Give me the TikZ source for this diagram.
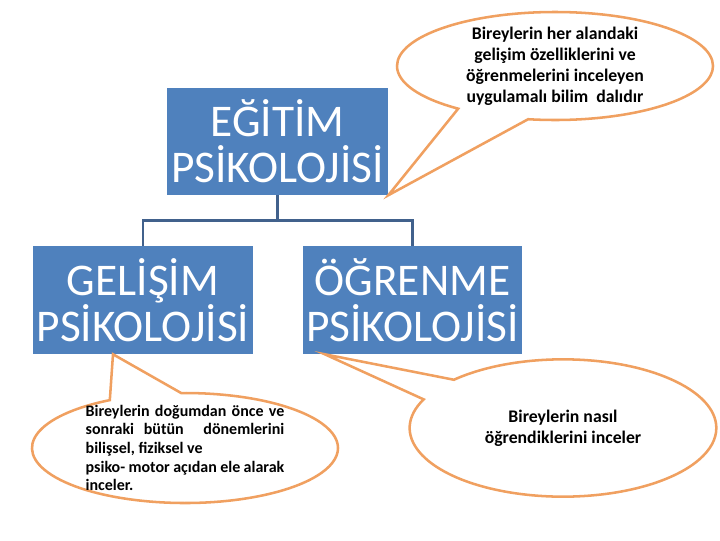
\documentclass[tikz,border=0pt]{standalone}
\usepackage{fontspec}
\setmainfont{Carlito}
\usepackage{tikz}
\usetikzlibrary{shapes.callouts}

\definecolor{boxblue}{RGB}{79,129,189}
\definecolor{treeblue}{RGB}{65,97,140}
\definecolor{bubbleorange}{RGB}{240,160,96}

\tikzset{
  topicbox/.style={fill=boxblue, text=white, inner sep=0pt, align=center,
    font=\fontsize{34}{34.5}\selectfont},
  bubble/.style={ellipse callout, draw=bubbleorange, fill=white, line width=1.9pt, inner sep=0pt},
  bubbletext/.style={align=center, font=\bfseries\fontsize{13.3}{15.75}\selectfont},
  treeline/.style={draw=treeblue, line width=1.9pt}
}

\begin{document}
\begin{tikzpicture}[x=0.75pt,y=0.75pt,yscale=-1,xscale=1]
\useasboundingbox (0,0) rectangle (720,540);

% Boxes
\node [topicbox, minimum width=165.75pt, minimum height=80.25pt] (egitim) at (277.5,141.5) {EĞİTİM\\PSİKOLOJİSİ};
\node [topicbox, minimum width=165pt, minimum height=81pt] (gelisim) at (143,300) {GELİŞİM\\PSİKOLOJİSİ};
\node [topicbox, minimum width=164.25pt, minimum height=81pt] (ogrenme) at (412.5,300) {ÖĞRENME\\PSİKOLOJİSİ};

% Tree
\draw [treeline] (egitim.south) -- ++(0,25) coordinate (joint);
\draw [treeline] (joint) -| (gelisim.north);
\draw [treeline] (joint) -| (ogrenme.north);

% Callouts
\node [bubble, minimum width=237pt, minimum height=81pt, callout pointer arc=28,
  callout absolute pointer={(egitim.south east)}] (tanim) at (555,66) {};
\node [bubbletext] (tanimtext) at (tanim.center) {Bireylerin her alandaki\\gelişim özelliklerini ve\\öğrenmelerini inceleyen\\uygulamalı bilim\ \ dalıdır};

\node [bubble, minimum width=229.5pt, minimum height=82.5pt, callout pointer arc=28,
  callout absolute pointer={([xshift=-22.5pt]gelisim.south)}] (gelisimnot) at (185,448) {};
\node [text width=149pt, align=justify, inner sep=0pt,
  font=\bfseries\fontsize{12}{14}\selectfont] (gelisimtext) at (gelisimnot.center)
  {Bireylerin doğumdan önce ve\linebreak sonraki bütün\ \ dönemlerini\linebreak bilişsel, fiziksel ve\\psiko- motor açıdan ele alarak\linebreak inceler.};

\node [bubble, minimum width=230pt, minimum height=103pt, callout pointer arc=20,
  callout absolute pointer={([xshift=16.5pt]ogrenme.south west)}] (ogrenmenot) at (563,428) {};
\node [bubbletext] (ogrenmetext) at (ogrenmenot.center) {Bireylerin nasıl\\öğrendiklerini inceler};

\end{tikzpicture}
\end{document}
